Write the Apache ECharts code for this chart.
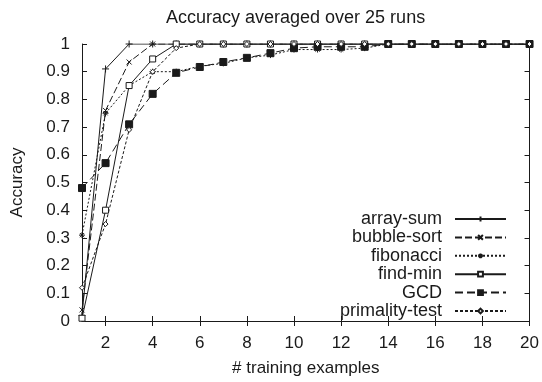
<!DOCTYPE html>
<html>
<head>
<meta charset="utf-8">
<script src="https://cdn.jsdelivr.net/npm/echarts@6/dist/echarts.min.js"></script>
<style>
  html, body { margin: 0; padding: 0; background: #fff; }
  #main { width: 542px; height: 382px; }
</style>
</head>
<body>
<div id="main"></div>
<script>
// training examples 1..20
var examples = [1, 2, 3, 4, 5, 6, 7, 8, 9, 10, 11, 12, 13, 14, 15, 16, 17, 18, 19, 20];
var xTicks = [2, 4, 6, 8, 10, 12, 14, 16, 18, 20];

var arraySum = [0.02, 0.91, 1, 1, 1, 1, 1, 1, 1, 1, 1, 1, 1, 1, 1, 1, 1, 1, 1, 1];
var bubbleSort = [0.04, 0.76, 0.935, 1, 1, 1, 1, 1, 1, 1, 1, 1, 1, 1, 1, 1, 1, 1, 1, 1];
var fibonacci = [0.31, 0.75, 0.85, 0.9, 0.9, 0.92, 0.93, 0.95, 0.96, 0.98, 0.98, 0.98, 0.985, 1, 1, 1, 1, 1, 1, 1];
var findMin = [0.01, 0.4, 0.85, 0.946, 1, 1, 1, 1, 1, 1, 1, 1, 1, 1, 1, 1, 1, 1, 1, 1];
var gcd = [0.48, 0.57, 0.71, 0.82, 0.896, 0.917, 0.935, 0.95, 0.967, 0.985, 0.99, 0.99, 0.99, 1, 1, 1, 1, 1, 1, 1];
var primality = [0.12, 0.35, 0.69, 0.9, 0.985, 1, 1, 1, 1, 1, 1, 1, 1, 1, 1, 1, 1, 1, 1, 1];

var FONT = 'Liberation Sans';
var INK = '#1a1a1a';

var plusPath = 'path://M0,5 L10,5 M5,0 L5,10';
var crossPath = 'path://M0,0 L10,10 M10,0 L0,10';
var starPath = 'path://M0,5 L10,5 M5,0 L5,10 M1.5,1.5 L8.5,8.5 M8.5,1.5 L1.5,8.5';

function pairs(ys) {
  return examples.map(function (x, i) { return [x, ys[i]]; });
}

function mkSeries(name, ys, symbol, size, fill, dash) {
  return {
    name: name,
    type: 'line',
    data: pairs(ys),
    symbol: symbol,
    symbolSize: size,
    showAllSymbol: true,
    lineStyle: { color: INK, width: 1, type: dash },
    itemStyle: { color: fill, borderColor: INK, borderWidth: 1 },
    emphasis: { disabled: true },
    animation: false
  };
}

var chart = echarts.init(document.getElementById('main'));

var axisBase = {
  type: 'value',
  axisLine: { show: true, lineStyle: { color: INK, width: 1 } },
  splitLine: { show: false },
  axisTick: { inside: true, length: 5, lineStyle: { color: INK } }
};

chart.setOption({
  backgroundColor: '#fff',
  title: {
    text: 'Accuracy averaged over 25 runs',
    left: 161,
    top: 4,
    textStyle: { fontFamily: FONT, fontSize: 18, fontWeight: 'normal', color: INK }
  },
  grid: { left: 82, right: 12, top: 44, bottom: 59 },
  legend: {
    orient: 'vertical',
    align: 'right',
    right: 35,
    top: 210,
    padding: 0,
    itemWidth: 51,
    itemHeight: 6,
    itemGap: 0.4,
    formatter: function (name) { return '{t|' + name + '}'; },
    textStyle: {
      fontFamily: FONT, fontSize: 18, color: INK,
      rich: { t: { fontFamily: FONT, fontSize: 18, color: INK, padding: [0, 8, 0, 0] } }
    },
    data: ['array-sum', 'bubble-sort', 'fibonacci', 'find-min', 'GCD', 'primality-test']
  },
  xAxis: [
    Object.assign({}, axisBase, {
      min: 1, max: 20,
      name: '# training examples',
      nameLocation: 'middle',
      nameGap: 39,
      nameTextStyle: { fontFamily: FONT, fontSize: 17, color: INK },
      axisTick: { inside: true, length: 5, lineStyle: { color: INK }, customValues: xTicks },
      axisLabel: { customValues: xTicks, margin: 14, fontFamily: FONT, fontSize: 17, color: INK }
    }),
    Object.assign({}, axisBase, {
      position: 'top',
      min: 1, max: 20,
      axisTick: { inside: true, length: 5, lineStyle: { color: INK }, customValues: xTicks },
      axisLabel: { show: false }
    })
  ],
  yAxis: [
    Object.assign({}, axisBase, {
      min: 0, max: 1, interval: 0.1,
      name: 'Accuracy',
      nameLocation: 'middle',
      nameGap: 56,
      nameTextStyle: { fontFamily: FONT, fontSize: 17, color: INK },
      axisLabel: {
        margin: 12, fontFamily: FONT, fontSize: 17, color: INK,
        formatter: function (v) { return String(Math.round(v * 10) / 10); }
      }
    }),
    Object.assign({}, axisBase, {
      position: 'right',
      min: 0, max: 1, interval: 0.1,
      axisLabel: { show: false }
    })
  ],
  series: [
    mkSeries('array-sum', arraySum, plusPath, 7, 'none', 'solid'),
    mkSeries('bubble-sort', bubbleSort, crossPath, 5, 'none', [7, 3]),
    mkSeries('fibonacci', fibonacci, starPath, 6, 'none', [2, 2]),
    mkSeries('find-min', findMin, 'rect', 6, '#fff', 'solid'),
    mkSeries('GCD', gcd, 'rect', 7, INK, [8, 4]),
    mkSeries('primality-test', primality, 'diamond', 5, '#fff', [3, 2])
  ]
});
</script>
</body>
</html>
